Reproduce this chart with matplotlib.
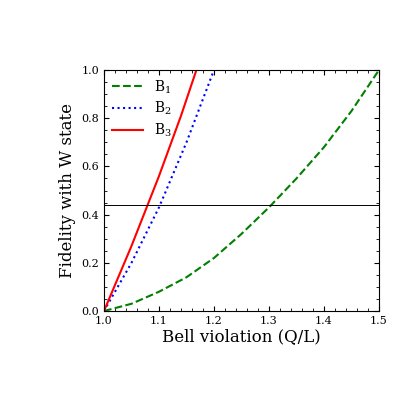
import numpy as np
import matplotlib.pyplot as plt
from matplotlib.ticker import MultipleLocator

plt.rcParams['font.family'] = 'DejaVu Serif'
plt.rcParams['mathtext.fontset'] = 'dejavuserif'

# data
b1_x = [1.0, 1.05, 1.1, 1.15, 1.2, 1.25, 1.3, 1.35, 1.4, 1.45, 1.5]
b1_y = [0.0, 0.03, 0.08, 0.14, 0.22, 0.32, 0.43, 0.55, 0.68, 0.83, 1.0]
b2_x = [1.0, 1.05, 1.1, 1.15, 1.2]
b2_y = [0.0, 0.2, 0.43, 0.7, 1.0]
b3_x = [1.0, 1.05, 1.1, 1.14, 1.168]
b3_y = [0.0, 0.27, 0.56, 0.81, 1.0]
w_level = 0.44

fig = plt.figure(figsize=(4.16, 4.16), dpi=100)
ax = fig.add_axes([104/416, 105/416, 275/416, 241/416])

ax.plot(b1_x, b1_y, '--', color='green', lw=1.5, label='B$_1$')
ax.plot(b2_x, b2_y, ':', color='blue', lw=1.5, label='B$_2$')
ax.plot(b3_x, b3_y, '-', color='red', lw=1.5, label='B$_3$')
ax.axhline(w_level, color='black', lw=0.7)

ax.set_xlim(1.0, 1.5)
ax.set_ylim(0, 1)
ax.xaxis.set_major_locator(MultipleLocator(0.1))
ax.xaxis.set_minor_locator(MultipleLocator(0.02))
ax.yaxis.set_major_locator(MultipleLocator(0.2))
ax.yaxis.set_minor_locator(MultipleLocator(0.05))
ax.tick_params(which='both', direction='in', top=True, right=True, labelsize=8)
ax.set_xlabel('Bell violation (Q/L)', fontsize=12, labelpad=2)
ax.set_ylabel('Fidelity with W state', fontsize=12)
ax.legend(loc='upper left', frameon=False, fontsize=10, handlelength=2.2,
          borderaxespad=0.2, labelspacing=0.3)

fig.savefig('out.png', dpi=100)
